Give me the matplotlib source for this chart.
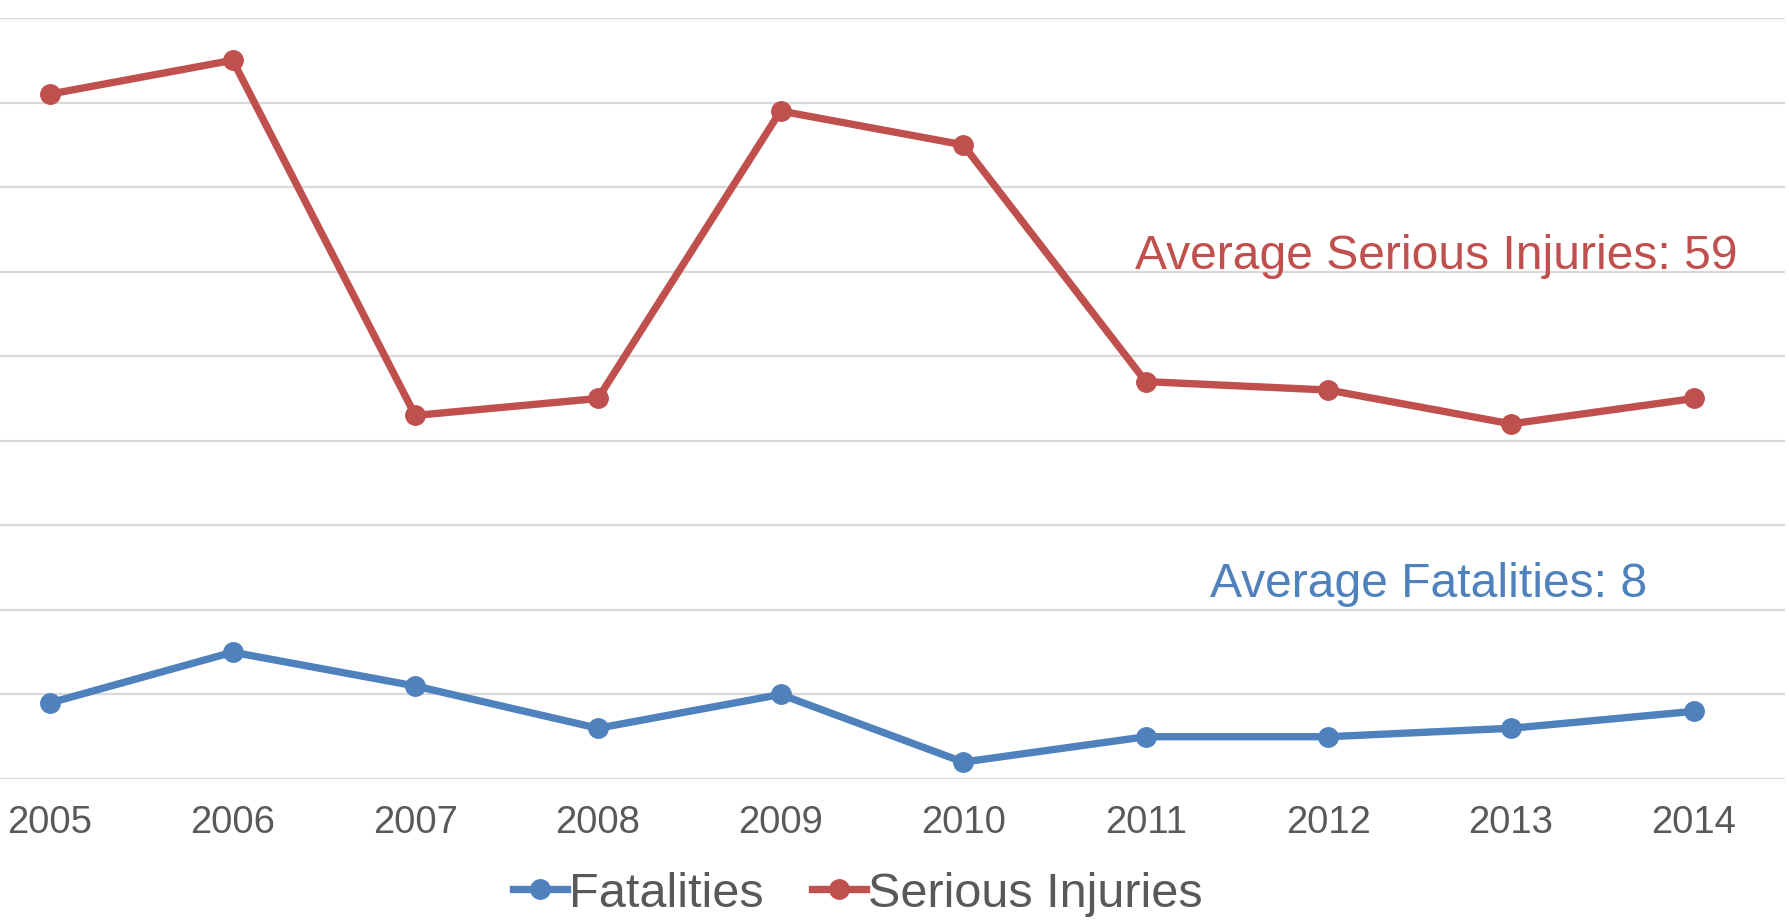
import matplotlib
matplotlib.use('Agg')
import matplotlib.pyplot as plt

plt.rcParams['font.family'] = ['Liberation Sans', 'DejaVu Sans']

years = ['2005', '2006', '2007', '2008', '2009', '2010', '2011', '2012', '2013', '2014']
fatalities = [9, 15, 11, 6, 10, 2, 5, 5, 6, 8]
serious_injuries = [81, 85, 43, 45, 79, 75, 47, 46, 42, 45]

avg_fatal = 8
avg_injury = 59

blue = '#4F81BD'
red = '#C0504D'
grey_text = '#595959'

W, H = 1790, 921
fig = plt.figure(figsize=(W / 100, H / 100), dpi=100)
ax = fig.add_axes([0, (H - 779) / H, 1785 / W, (779 - 18) / H])

x = list(range(len(years)))
l1, = ax.plot(x, fatalities, color=blue, lw=5.3, marker='o', ms=14, label='Fatalities',
              solid_joinstyle='round', zorder=3)
l2, = ax.plot(x, serious_injuries, color=red, lw=5.3, marker='o', ms=14, label='Serious Injuries',
              solid_joinstyle='round', zorder=3)

ax.set_xlim(-0.274, 9.5)
ax.set_ylim(0, 90)
ax.set_yticks(range(0, 91, 10))
ax.yaxis.grid(True, color='#d9d9d9', lw=1.6)
ax.set_axisbelow(True)
ax.tick_params(axis='y', left=False, labelleft=False)
ax.set_xticks(x)
ax.set_xticklabels(years)
ax.tick_params(axis='x', length=0, labelsize=27.5, labelcolor=grey_text, pad=19)
for s in ax.spines.values():
    s.set_visible(False)

ax.text(7.59, 61.8, f'Average Serious Injuries: {avg_injury}', color=red, fontsize=34.6,
        ha='center', va='center')
ax.text(7.55, 23.0, f'Average Fatalities: {avg_fatal}', color=blue, fontsize=34.6,
        ha='center', va='center')

fig.legend(handles=[l1, l2], loc='center', bbox_to_anchor=(858 / W, 1 - 894 / H),
           ncol=2, frameon=False, fontsize=35, labelcolor=grey_text,
           handlelength=1.1, handletextpad=0.05, columnspacing=1.0, borderpad=0)

fig.savefig('out.png', dpi=100)
